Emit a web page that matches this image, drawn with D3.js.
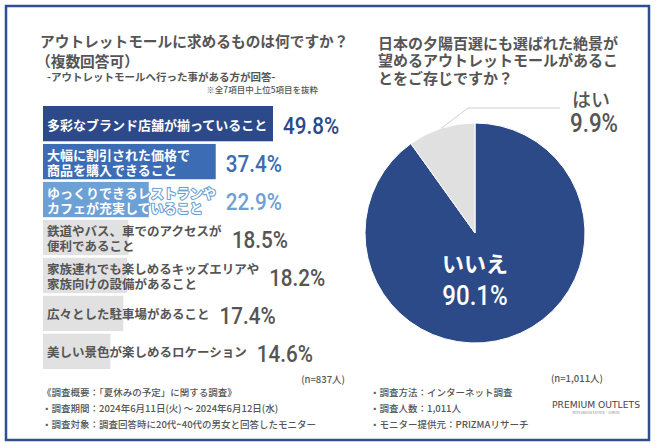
<!DOCTYPE html>
<html><head><meta charset="utf-8">
<script src="https://cdn.jsdelivr.net/npm/d3@7"></script>
<style>
body{margin:0;background:#fff;}
svg{display:block;font-family:"Noto Sans CJK JP","Noto Sans",sans-serif;}
</style></head>
<body><svg id="c" width="657" height="443"></svg>
<script>
// ---- data ----
const barCategories = [
  ["多彩なブランド店舗が揃っていること"],
  ["大幅に割引された価格で","商品を購入できること"],
  ["ゆっくりできるレストランや","カフェが充実していること"],
  ["鉄道やバス、車でのアクセスが","便利であること"],
  ["家族連れでも楽しめるキッズエリアや","家族向けの設備があること"],
  ["広々とした駐車場があること"],
  ["美しい景色が楽しめるロケーション"]
];
const barValues = [49.8, 37.4, 22.9, 18.5, 18.2, 17.4, 14.6];
const barColors = ["#2c4a8a","#3c6db4","#6da1d6","#e1e1e1","#e1e1e1","#e1e1e1","#e1e1e1"];
const valueColors = ["#2c4a8a","#3c6db4","#6da1d6","#555555","#555555","#555555","#555555"];
const labelColors = ["#ffffff","#ffffff","#ffffff","#555555","#555555","#555555","#555555"];
const pieLabels = ["いいえ","はい"];
const pieValues = [90.1, 9.9];
const pieColors = ["#2c4a87","#e0e0e0"];
const leftTitle = ["アウトレットモールに求めるものは何ですか？","（複数回答可）"];
const leftSub = "-アウトレットモールへ行った事がある方が回答-";
const leftNote = "※全7項目中上位5項目を抜粋";
const rightTitle = ["日本の夕陽百選にも選ばれた絶景が","望めるアウトレットモールがあるこ","とをご存じですか？"];
const nLeft = "(n=837人)";
const nRight = "(n=1,011人)";
const footLeft = ["《調査概要：「夏休みの予定」に関する調査》","・調査期間：2024年6月11日(火) ～ 2024年6月12日(水)","・調査対象：調査回答時に20代~40代の男女と回答したモニター"];
const footRight = ["・調査方法：インターネット調査","・調査人数：1,011人","・モニター提供元：PRIZMAリサーチ"];

// ---- drawing ----
const svg = d3.select("#c");
const gray = "#555555";
const numFont = "Roboto, 'Noto Sans', sans-serif";

svg.append("rect").attr("x",6).attr("y",6).attr("width",643).attr("height",434)
  .attr("fill","#fff").attr("stroke","#2f4f8f").attr("stroke-width",2.5);

// left titles
svg.append("text").attr("x",40).attr("y",40).attr("dominant-baseline","central")
  .attr("font-size",14.7).attr("font-weight",700).attr("fill",gray).text(leftTitle[0]);
svg.append("text").attr("x",36).attr("y",60).attr("dominant-baseline","central")
  .attr("font-size",14.7).attr("font-weight",700).attr("fill",gray).text(leftTitle[1]);
svg.append("text").attr("x",47).attr("y",76).attr("dominant-baseline","central")
  .attr("font-size",10.5).attr("font-weight",700).attr("fill",gray).text(leftSub);
svg.append("text").attr("x",318).attr("y",89).attr("dominant-baseline","central")
  .attr("text-anchor","end").attr("font-size",8.5).attr("font-weight",500).attr("fill",gray).text(leftNote);

// bars
const x = d3.scaleLinear().domain([0, 49.8]).range([43, 273]);
const y = d3.scaleBand().domain(d3.range(barValues.length)).range([106, 369]).paddingInner(0.07);
const bg = svg.append("g");
barValues.forEach((v,i)=>{
  bg.append("rect").attr("x",x(0)).attr("y",y(i)).attr("width",x(v)-x(0)).attr("height",y.bandwidth())
    .attr("fill",barColors[i]);
});
barValues.forEach((v,i)=>{
  const lines = barCategories[i];
  const cy = y(i) + y.bandwidth()/2;
  const fs = i < 3 ? 13 : 12.5;
  const lh = 15;
  const t = bg.append("text").attr("font-size",fs).attr("font-weight",700)
    .attr("fill",labelColors[i]).attr("dominant-baseline","central");
  if (i === 2) t.attr("stroke","#6da1d6").attr("stroke-width",2.2).attr("paint-order","stroke").attr("stroke-linejoin","round");
  lines.forEach((ln,k)=>{
    t.append("tspan").attr("x",x(0)+4).attr("y",cy + (k-(lines.length-1)/2)*lh).text(ln);
  });
  const labelEnd = x(0)+4 + t.node().getBBox().width;
  const vx = Math.max(labelEnd, x(v)) + 10;
  bg.append("text").attr("transform",`translate(${vx},${cy+2}) scale(0.86,1)`)
    .attr("dominant-baseline","central").attr("font-family",numFont).attr("font-weight",500)
    .attr("font-size",24).attr("fill",valueColors[i]).text(v.toFixed(1)+"%");
});
svg.append("text").attr("x",345).attr("y",379).attr("text-anchor","end").attr("dominant-baseline","central")
  .attr("font-size",9.5).attr("font-weight",500).attr("fill",gray).text(nLeft);

// right title
rightTitle.forEach((ln,k)=>{
  svg.append("text").attr("x",378).attr("y",42+k*17.5).attr("dominant-baseline","central")
    .attr("font-size",15).attr("font-weight",700).attr("fill",gray).text(ln);
});

// pie
const cx = 475, cyP = 233, R = 110;
const pie = d3.pie().sort(null).value(d=>d)(pieValues);
const arc = d3.arc().innerRadius(0).outerRadius(R);
const pg = svg.append("g").attr("transform",`translate(${cx},${cyP})`);
pg.selectAll("path").data(pie).join("path").attr("d",arc)
  .attr("fill",(d,i)=>pieColors[i]).attr("stroke","#fff").attr("stroke-width",1);

// leader line for small slice
const s = pie[1];
const mid = (s.startAngle + s.endAngle)/2;
const p0 = [R*Math.sin(mid), -R*Math.cos(mid)];
pg.append("polyline").attr("points",[p0,[-7,-125],[85,-125]].map(p=>p.join(",")).join(" "))
  .attr("fill","none").attr("stroke","#cfcfcf").attr("stroke-width",1);
pg.append("text").attr("x",116).attr("y",-135).attr("text-anchor","middle").attr("dominant-baseline","central")
  .attr("font-size",19).attr("font-weight",500).attr("fill",gray).text(pieLabels[1]);
pg.append("text").attr("transform",`translate(119,-110) scale(0.86,1)`).attr("text-anchor","middle")
  .attr("dominant-baseline","central").attr("font-family",numFont).attr("font-weight",500)
  .attr("font-size",26).attr("fill",gray).text(pieValues[1].toFixed(1)+"%");
pg.append("text").attr("x",0).attr("y",29).attr("text-anchor","middle").attr("dominant-baseline","central")
  .attr("font-size",22).attr("font-weight",700).attr("fill","#fff").text(pieLabels[0]);
pg.append("text").attr("transform",`translate(0,62) scale(0.86,1)`).attr("text-anchor","middle")
  .attr("dominant-baseline","central").attr("font-family",numFont).attr("font-weight",500)
  .attr("font-size",28).attr("fill","#fff").text(pieValues[0].toFixed(1)+"%");

svg.append("text").attr("x",603).attr("y",378).attr("text-anchor","end").attr("dominant-baseline","central")
  .attr("font-size",9.5).attr("font-weight",500).attr("fill",gray).text(nRight);

// footer
footLeft.forEach((ln,k)=>{
  svg.append("text").attr("x",42).attr("y",392+k*16).attr("dominant-baseline","central")
    .attr("font-size",9.5).attr("font-weight",500).attr("fill",gray).text(ln);
});
footRight.forEach((ln,k)=>{
  svg.append("text").attr("x",370).attr("y",392+k*16).attr("dominant-baseline","central")
    .attr("font-size",9.5).attr("font-weight",500).attr("fill",gray).text(ln);
});
svg.append("text").attr("x",596).attr("y",405).attr("text-anchor","middle").attr("dominant-baseline","central")
  .attr("font-family","'DejaVu Sans', sans-serif").attr("font-size",9).attr("fill","#444")
  .attr("textLength",88).attr("lengthAdjust","spacingAndGlyphs").text("PREMIUM OUTLETS");
svg.append("text").attr("x",596).attr("y",412).attr("text-anchor","middle").attr("dominant-baseline","central")
  .attr("font-size",3.5).attr("fill","#888").text("MITSUBISHI ESTATE · SIMON");
</script></body></html>
